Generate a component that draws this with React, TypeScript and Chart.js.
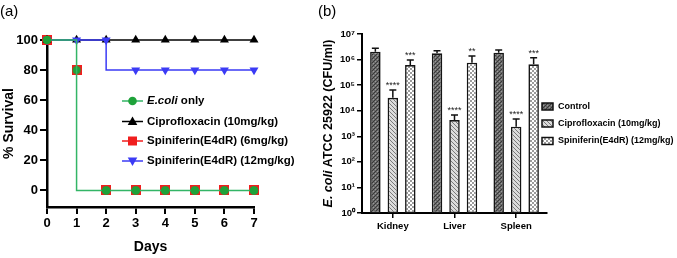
import React, { useEffect, useRef } from 'react';
import { Chart, registerables } from 'chart.js';
Chart.register(...registerables);

// ---------- Panel (a) data ----------
const days = [0, 1, 2, 3, 4, 5, 6, 7];
const dayTicks = [0, 1, 2, 3, 4, 5, 6, 7];
const survivalTicks = [0, 20, 40, 60, 80, 100];
const survivalSeries = ['E.coli only', 'Ciprofloxacin (10mg/kg)', 'Spiniferin(E4dR) (6mg/kg)', 'Spiniferin(E4dR) (12mg/kg)'];
const ecoliOnly = [100, 100, 0, 0, 0, 0, 0, 0];
const cipro10 = [100, 100, 100, 100, 100, 100, 100, 100];
const spin6 = [100, 80, 0, 0, 0, 0, 0, 0];
const spin12 = [100, 100, 100, 80, 80, 80, 80, 80];

// ---------- Panel (b) data ----------
const organs = ['Kidney', 'Liver', 'Spleen'];
const cfuSeries = ['Control', 'Ciprofloxacin (10mg/kg)', 'Spiniferin(E4dR) (12mg/kg)'];
const controlCfu = [2.03e6, 1.76e6, 1.86e6];
const controlErr = [2.76e6, 2.2e6, 2.37e6];
const ciproCfu = [3.2e4, 4.3e3, 2.37e3];
const ciproErr = [6.5e4, 6.8e3, 4.7e3];
const spinCfu = [6.1e5, 7.5e5, 6.5e5];
const spinErr = [9.6e5, 1.38e6, 1.18e6];
const controlStars = ['', '', ''];
const ciproStars = ['****', '****', '****'];
const spinStars = ['***', '**', '***'];
const cfuTicks = [1, 10, 100, 1e3, 1e4, 1e5, 1e6, 1e7];
const cfuTickLabels = ['10⁰', '10¹', '10²', '10³', '10⁴', '10⁵', '10⁶', '10⁷'];

const FONT = "'Liberation Sans', Arial, Helvetica, sans-serif";
const GREEN_LINE = '#33b566';
const GREEN_PT = '#1ea23a';
const RED = '#f01e1e';
const BLUE = '#3b3bf5';
const BLACK = '#000000';

function redMarker() {
  const c = document.createElement('canvas');
  c.width = 10; c.height = 10;
  const g = c.getContext('2d')!;
  g.fillStyle = RED; g.fillRect(0, 0, 10, 10);
  g.fillStyle = GREEN_PT; g.beginPath(); g.arc(5, 5, 4, 0, Math.PI * 2); g.fill();
  return c;
}

function drawMarker(ctx: CanvasRenderingContext2D, kind: string, x: number, y: number, color: string) {
  ctx.fillStyle = color;
  ctx.beginPath();
  if (kind === 'circle') ctx.arc(x, y, 4.3, 0, Math.PI * 2);
  else if (kind === 'up') { ctx.moveTo(x, y - 5); ctx.lineTo(x - 4.8, y + 3.5); ctx.lineTo(x + 4.8, y + 3.5); ctx.closePath(); }
  else if (kind === 'down') { ctx.moveTo(x, y + 5); ctx.lineTo(x - 4.8, y - 3.5); ctx.lineTo(x + 4.8, y - 3.5); ctx.closePath(); }
  else ctx.rect(x - 4.5, y - 4.5, 9, 9);
  ctx.fill();
}

const legendA = {
  id: 'legendA',
  afterDraw(chart: any) {
    const ctx: CanvasRenderingContext2D = chart.ctx;
    const rows = [101, 121.5, 141, 161];
    const kinds = ['circle', 'up', 'square', 'down'];
    const lineCols = [GREEN_LINE, BLACK, RED, BLUE];
    const ptCols = [GREEN_PT, BLACK, RED, BLUE];
    survivalSeries.forEach((label, i) => {
      const y = rows[i];
      ctx.save();
      ctx.strokeStyle = lineCols[i]; ctx.lineWidth = 1.5;
      ctx.beginPath(); ctx.moveTo(122, y); ctx.lineTo(143, y); ctx.stroke();
      drawMarker(ctx, kinds[i], 132.5, y, ptCols[i]);
      ctx.fillStyle = '#000';
      ctx.textBaseline = 'middle';
      let x = 147;
      if (label.startsWith('E.coli')) {
        ctx.font = `italic bold 11.5px ${FONT}`;
        ctx.fillText('E.coli', x, y);
        x += ctx.measureText('E.coli').width;
        label = label.slice(6);
      }
      ctx.font = `bold 11.5px ${FONT}`;
      ctx.fillText(label, x, y);
      ctx.restore();
    });
  },
};

function makePatterns() {
  const mk = (draw: (g: CanvasRenderingContext2D) => void, s = 4) => {
    const c = document.createElement('canvas');
    c.width = s; c.height = s;
    const g = c.getContext('2d')!;
    draw(g);
    return g.createPattern(c, 'repeat');
  };
  const control = mk((g) => {
    g.fillStyle = '#6a6a6a'; g.fillRect(0, 0, 4, 4);
    g.fillStyle = '#383838';
    g.fillRect(0, 0, 1, 1); g.fillRect(2, 2, 1, 1); g.fillRect(1, 3, 1, 1); g.fillRect(3, 1, 1, 1);
    g.fillStyle = '#9a9a9a'; g.fillRect(1, 1, 1, 1); g.fillRect(3, 3, 1, 1);
  });
  const cipro = mk((g) => {
    g.fillStyle = '#dcdcdc'; g.fillRect(0, 0, 4, 4);
    g.fillStyle = '#7a7a7a';
    for (let i = 0; i < 4; i++) g.fillRect(i, i, 1, 1);
  });
  const spin = mk((g) => {
    g.fillStyle = '#ffffff'; g.fillRect(0, 0, 4, 4);
    g.fillStyle = '#9c9c9c';
    g.fillRect(0, 0, 2, 2); g.fillRect(2, 2, 2, 2);
  });
  return [control, cipro, spin];
}

const errPlugin = {
  id: 'errbars',
  afterDatasetsDraw(chart: any) {
    const ctx: CanvasRenderingContext2D = chart.ctx;
    const ys = chart.scales.y;
    const errs = [controlErr, ciproErr, spinErr];
    const stars = [controlStars, ciproStars, spinStars];
    errs.forEach((arr, di) => {
      const meta = chart.getDatasetMeta(di);
      meta.data.forEach((el: any, j: number) => {
        const x = el.x, yt = el.y, ye = ys.getPixelForValue(arr[j]);
        ctx.save();
        ctx.strokeStyle = '#111'; ctx.lineWidth = 1.5;
        ctx.beginPath();
        ctx.moveTo(x, yt); ctx.lineTo(x, ye);
        ctx.moveTo(x - 3.5, ye); ctx.lineTo(x + 3.5, ye);
        ctx.stroke();
        if (stars[di][j]) {
          ctx.font = `9px ${FONT}`;
          ctx.textAlign = 'center';
          ctx.textBaseline = 'alphabetic';
          ctx.fillStyle = '#222';
          ctx.fillText(stars[di][j], x, ye - 2);
        }
        ctx.restore();
      });
    });
  },
};

const legendB = {
  id: 'legendB',
  afterDraw(chart: any) {
    const ctx: CanvasRenderingContext2D = chart.ctx;
    const rows = [106.5, 123.5, 141];
    cfuSeries.forEach((label, i) => {
      const ds = chart.data.datasets[i];
      const y = rows[i];
      ctx.save();
      ctx.fillStyle = ds.backgroundColor;
      ctx.fillRect(224, y - 3.5, 11, 7);
      ctx.strokeStyle = '#111'; ctx.lineWidth = 1.5;
      ctx.strokeRect(224, y - 3.5, 11, 7);
      ctx.fillStyle = '#000';
      ctx.textBaseline = 'middle';
      ctx.font = `bold 9px ${FONT}`;
      ctx.fillText(label, 240, y);
      ctx.restore();
    });
    // y axis title with italic species name
    ctx.save();
    ctx.translate(11, 123.5);
    ctx.rotate(-Math.PI / 2);
    ctx.fillStyle = '#000';
    ctx.textBaseline = 'middle';
    const p1 = 'E. coli', p2 = ' ATCC 25922 (CFU/ml)';
    ctx.font = `italic bold 12.5px ${FONT}`;
    const w1 = ctx.measureText(p1).width;
    ctx.font = `bold 12.5px ${FONT}`;
    const w2 = ctx.measureText(p2).width;
    const start = -(w1 + w2) / 2;
    ctx.font = `italic bold 12.5px ${FONT}`;
    ctx.fillText(p1, start, 0);
    ctx.font = `bold 12.5px ${FONT}`;
    ctx.fillText(p2, start + w1, 0);
    ctx.restore();
  },
};

export default function App() {
  const refA = useRef<HTMLCanvasElement>(null);
  const refB = useRef<HTMLCanvasElement>(null);

  useEffect(() => {
    const red = redMarker();
    const pts = (arr: number[]) => days.map((d, i) => ({ x: d, y: arr[i] }));
    const chartA = new Chart(refA.current!, {
      type: 'line',
      data: {
        datasets: [
          {
            label: survivalSeries[0], data: pts(ecoliOnly), borderColor: GREEN_LINE, borderWidth: 1.5,
            pointBackgroundColor: GREEN_PT, pointBorderColor: GREEN_PT, pointStyle: 'circle',
            pointRadius: (c: any) => (c.dataIndex === 1 ? 0 : 4.3), pointBorderWidth: 0,
            stepped: 'after', order: 0, clip: false,
          },
          {
            label: survivalSeries[1], data: pts(cipro10), borderColor: BLACK, borderWidth: 1.5,
            pointBackgroundColor: BLACK, pointBorderColor: BLACK, pointStyle: 'triangle',
            pointRadius: 5.2, pointBorderWidth: 0, order: 2, clip: false,
          },
          {
            label: survivalSeries[2], data: pts(spin6), borderColor: RED, showLine: false,
            pointStyle: red as any, pointRadius: 5, order: 3, clip: false,
          },
          {
            label: survivalSeries[3], data: pts(spin12), borderColor: BLUE, borderWidth: 1.5,
            pointBackgroundColor: BLUE, pointBorderColor: BLUE, pointStyle: 'triangle', rotation: 180,
            pointRadius: 5.2, pointBorderWidth: 0, stepped: 'after', order: 1, clip: false,
          },
        ] as any,
      },
      options: {
        animation: false, responsive: false, maintainAspectRatio: false,
        layout: { padding: { left: 0, right: 64, top: 40, bottom: 0 } },
        plugins: { legend: { display: false }, tooltip: { enabled: false } },
        scales: {
          x: {
            type: 'linear', min: 0, max: 7,
            afterBuildTicks: (s: any) => { s.ticks = dayTicks.map((v) => ({ value: v })); },
            afterFit: (s: any) => { s.height = 51; },
            grid: { drawOnChartArea: false, color: '#000', lineWidth: 2, tickLength: 7 },
            border: { color: '#000', width: 2.5 },
            ticks: { color: '#000', padding: 2, font: { family: FONT, size: 13, weight: 'bold' } },
            title: { display: true, text: 'Days', color: '#000', padding: { top: 0, bottom: 2 }, font: { family: FONT, size: 14, weight: 'bold' } },
          },
          y: {
            type: 'linear', min: -11, max: 100,
            afterBuildTicks: (s: any) => { s.ticks = survivalTicks.map((v) => ({ value: v })); },
            afterFit: (s: any) => { s.width = 47; },
            grid: { drawOnChartArea: false, color: '#000', lineWidth: 2, tickLength: 7 },
            border: { color: '#000', width: 2.5 },
            ticks: { color: '#000', padding: 2, font: { family: FONT, size: 13, weight: 'bold' } },
            title: { display: true, text: '% Survival', color: '#000', padding: { top: 1, bottom: 0 }, font: { family: FONT, size: 14, weight: 'bold' } },
          },
        },
      } as any,
      plugins: [legendA],
    });

    const [pc, pp, ps] = makePatterns();
    const barCommon = { borderColor: '#151515', borderWidth: 1.6, borderSkipped: false, categoryPercentage: 0.85, barPercentage: 0.6 };
    const chartB = new Chart(refB.current!, {
      type: 'bar',
      data: {
        labels: organs,
        datasets: [
          { label: cfuSeries[0], data: controlCfu, backgroundColor: pc, ...barCommon },
          { label: cfuSeries[1], data: ciproCfu, backgroundColor: pp, ...barCommon },
          { label: cfuSeries[2], data: spinCfu, backgroundColor: ps, ...barCommon },
        ] as any,
      },
      options: {
        animation: false, responsive: false, maintainAspectRatio: false,
        layout: { padding: { left: 0, right: 130, top: 34, bottom: 0 } },
        plugins: { legend: { display: false }, tooltip: { enabled: false } },
        scales: {
          x: {
            type: 'category',
            afterFit: (s: any) => { s.height = 45; },
            grid: { drawOnChartArea: false, offset: false, color: '#000', lineWidth: 1.5, tickLength: 5 },
            border: { color: '#000', width: 2 },
            ticks: { color: '#000', padding: 3, font: { family: FONT, size: 9.5, weight: 'bold' } },
          },
          y: {
            type: 'logarithmic', min: 1, max: 1e7,
            afterBuildTicks: (s: any) => { s.ticks = cfuTicks.map((v) => ({ value: v })); },
            afterFit: (s: any) => { s.width = 44; },
            grid: { drawOnChartArea: false, color: '#000', lineWidth: 1.5, tickLength: 5 },
            border: { color: '#000', width: 2 },
            ticks: {
              color: '#000', padding: 2, font: { family: FONT, size: 9.5, weight: 'bold' },
              callback: (_v: any, i: number) => cfuTickLabels[i],
            },
          },
        },
      } as any,
      plugins: [errPlugin, legendB],
    });

    return () => { chartA.destroy(); chartB.destroy(); };
  }, []);

  return (
    <div style={{ position: 'fixed', left: 0, top: 0, width: 677, height: 258, background: '#fff', overflow: 'hidden' }}>
      <canvas ref={refA} width={318} height={258} style={{ position: 'absolute', left: 0, top: 0, width: 318, height: 258 }} />
      <canvas ref={refB} width={359} height={258} style={{ position: 'absolute', left: 318, top: 0, width: 359, height: 258 }} />
      <div style={{ position: 'absolute', left: 0, top: 2, font: `15px ${FONT}`, color: '#000' }}>(a)</div>
      <div style={{ position: 'absolute', left: 318, top: 2, font: `15px ${FONT}`, color: '#000' }}>(b)</div>
    </div>
  );
}
